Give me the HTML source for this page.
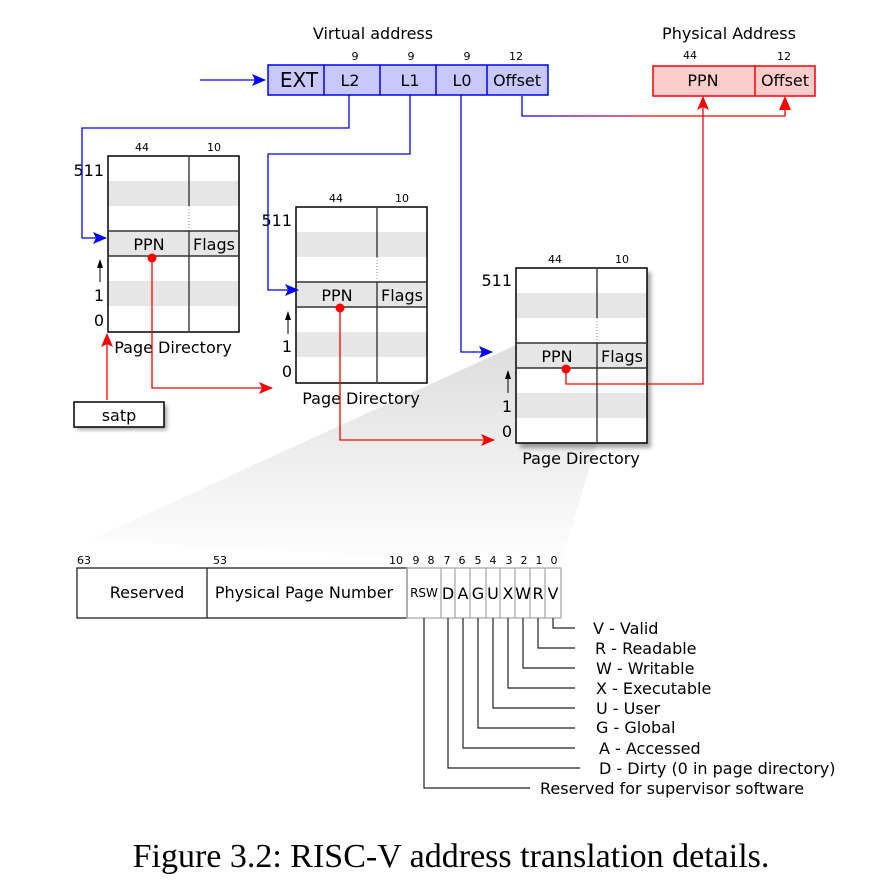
<!DOCTYPE html>
<html><head><meta charset="utf-8"><style>
body{margin:0;background:#fff}
svg{display:block;font-family:"DejaVu Sans","Liberation Sans",sans-serif}
</style></head><body>
<svg width="883" height="882" viewBox="0 0 883 882" xmlns="http://www.w3.org/2000/svg">
<defs>
<linearGradient id="fan" x1="0" y1="0" x2="0" y2="1">
<stop offset="0" stop-color="#ddd"/><stop offset="1" stop-color="#fff"/></linearGradient>
<linearGradient id="off" x1="0" y1="0" x2="1" y2="0">
<stop offset="0" stop-color="#00f"/><stop offset="0.5" stop-color="#f00"/><stop offset="1" stop-color="#f00"/></linearGradient>
<marker id="ab" markerWidth="14" markerHeight="12" refX="13" refY="6" orient="auto" markerUnits="userSpaceOnUse"><path d="M0,0 L14,6 L0,12 L3,6z" fill="#00f"/></marker>
<marker id="ar" markerWidth="14" markerHeight="12" refX="13" refY="6" orient="auto" markerUnits="userSpaceOnUse"><path d="M0,0 L14,6 L0,12 L3,6z" fill="#f00"/></marker>
<filter id="sh"><feGaussianBlur stdDeviation="2"/></filter>
</defs>

<polygon points="516,345 516,443 597,443 560,566 90,540" fill="url(#fan)"/>

<!-- virtual address -->
<text x="373" y="39" font-size="16" text-anchor="middle">Virtual address</text>
<g font-size="11" text-anchor="middle"><text x="355" y="60">9</text><text x="411" y="60">9</text><text x="467" y="60">9</text><text x="516" y="60">12</text></g>
<rect x="268" y="65" width="280" height="30" fill="#c8c8ff" stroke="#00f" stroke-width="1.5"/>
<g stroke="#00f" stroke-width="1.5"><line x1="324" y1="65" x2="324" y2="95"/><line x1="380" y1="65" x2="380" y2="95"/><line x1="436" y1="65" x2="436" y2="95"/><line x1="487" y1="65" x2="487" y2="95"/></g>
<g font-size="16" text-anchor="middle"><text x="299" y="87" font-size="20">EXT</text><text x="350" y="86">L2</text><text x="410" y="86">L1</text><text x="462" y="86">L0</text><text x="517" y="86">Offset</text></g>

<!-- physical address -->
<text x="729" y="39" font-size="16" text-anchor="middle">Physical Address</text>
<g font-size="11" text-anchor="middle"><text x="690" y="59">44</text><text x="784" y="60">12</text></g>
<rect x="653" y="66" width="162" height="30" fill="#ffcccc" stroke="#f00" stroke-width="1.5"/>
<line x1="755" y1="66" x2="755" y2="96" stroke="#f00" stroke-width="1.5"/>
<g font-size="16" text-anchor="middle"><text x="703" y="86">PPN</text><text x="785" y="86">Offset</text></g>

<!-- table 1 -->
<g>
<rect x="108" y="181" width="131" height="25" fill="#e6e6e6"/><rect x="108" y="231" width="131" height="25" fill="#e6e6e6"/><rect x="108" y="281" width="131" height="25" fill="#e6e6e6"/>
<rect x="108" y="156" width="131" height="176" fill="none" stroke="#000" stroke-width="1.5"/>
<line x1="189" y1="156" x2="189" y2="206" stroke="#444" stroke-width="1.5"/><line x1="189" y1="206" x2="189" y2="231" stroke="#888" stroke-dasharray="1,2"/><line x1="189" y1="231" x2="189" y2="332" stroke="#444" stroke-width="1.5"/>
<line x1="108" y1="231" x2="239" y2="231" stroke="#333" stroke-width="1.5"/><line x1="108" y1="256" x2="239" y2="256" stroke="#333" stroke-width="1.5"/>
<g font-size="11" text-anchor="middle"><text x="142" y="151">44</text><text x="214" y="151">10</text></g>
<g font-size="16"><text x="149" y="250" text-anchor="middle">PPN</text><text x="214" y="250" text-anchor="middle">Flags</text><text x="104" y="176" text-anchor="end">511</text><text x="104" y="301" text-anchor="end">1</text><text x="104" y="326" text-anchor="end">0</text></g>
<path d="M100,282 V263" stroke="#000"/><path d="M97,268 L100,259 L103,268z"/>
<text x="173" y="353" font-size="16" text-anchor="middle">Page Directory</text>
</g>

<!-- table 2 -->
<g>
<rect x="296" y="232" width="131" height="25" fill="#e6e6e6"/><rect x="296" y="282" width="131" height="25" fill="#e6e6e6"/><rect x="296" y="332" width="131" height="25" fill="#e6e6e6"/>
<rect x="296" y="207" width="131" height="176" fill="none" stroke="#000" stroke-width="1.5"/>
<line x1="377" y1="207" x2="377" y2="257" stroke="#444" stroke-width="1.5"/><line x1="377" y1="257" x2="377" y2="282" stroke="#888" stroke-dasharray="1,2"/><line x1="377" y1="282" x2="377" y2="383" stroke="#444" stroke-width="1.5"/>
<line x1="296" y1="282" x2="427" y2="282" stroke="#333" stroke-width="1.5"/><line x1="296" y1="307" x2="427" y2="307" stroke="#333" stroke-width="1.5"/>
<g font-size="11" text-anchor="middle"><text x="336" y="202">44</text><text x="402" y="202">10</text></g>
<g font-size="16"><text x="337" y="301" text-anchor="middle">PPN</text><text x="402" y="301" text-anchor="middle">Flags</text><text x="292" y="226" text-anchor="end">511</text><text x="292" y="352" text-anchor="end">1</text><text x="292" y="377" text-anchor="end">0</text></g>
<path d="M288,334 V315" stroke="#000"/><path d="M285,320 L288,311 L291,320z"/>
<text x="361" y="404" font-size="16" text-anchor="middle">Page Directory</text>
</g>

<!-- table 3 -->
<g>
<rect x="520" y="272" width="131" height="176" fill="#000" opacity="0.35" filter="url(#sh)"/>
<rect x="516" y="268" width="131" height="175" fill="#fff"/>
<rect x="516" y="293" width="131" height="25" fill="#e6e6e6"/><rect x="516" y="343" width="131" height="25" fill="#e6e6e6"/><rect x="516" y="393" width="131" height="25" fill="#e6e6e6"/>
<rect x="516" y="268" width="131" height="175" fill="none" stroke="#000" stroke-width="1.5"/>
<line x1="597" y1="268" x2="597" y2="318" stroke="#444" stroke-width="1.5"/><line x1="597" y1="318" x2="597" y2="343" stroke="#888" stroke-dasharray="1,2"/><line x1="597" y1="343" x2="597" y2="443" stroke="#444" stroke-width="1.5"/>
<line x1="516" y1="343" x2="647" y2="343" stroke="#333" stroke-width="1.5"/><line x1="516" y1="368" x2="647" y2="368" stroke="#333" stroke-width="1.5"/>
<g font-size="11" text-anchor="middle"><text x="555" y="263">44</text><text x="622" y="263">10</text></g>
<g font-size="16"><text x="557" y="362" text-anchor="middle">PPN</text><text x="622" y="362" text-anchor="middle">Flags</text><text x="512" y="286" text-anchor="end">511</text><text x="512" y="412" text-anchor="end">1</text><text x="512" y="437" text-anchor="end">0</text></g>
<path d="M508,393 V374" stroke="#000"/><path d="M505,379 L508,370 L511,379z"/>
<text x="581" y="464" font-size="16" text-anchor="middle">Page Directory</text>
</g>

<!-- satp -->
<rect x="77" y="405" width="90" height="25" fill="#000" opacity="0.35" filter="url(#sh)"/>
<rect x="74" y="402" width="90" height="25" fill="#fff" stroke="#000" stroke-width="1.5"/>
<text x="119" y="421" font-size="16" text-anchor="middle">satp</text>

<!-- blue connectors -->
<g fill="none" stroke="#00f" stroke-width="1.3">
<path d="M200,80 H265" marker-end="url(#ab)"/>
<path d="M349,95 V128 H82 V238 H106" marker-end="url(#ab)"/>
<path d="M410,95 V154 H268 V290 H298" marker-end="url(#ab)"/>
<path d="M461,95 V352 H492" marker-end="url(#ab)"/>
</g>
<path d="M522,96 V116 H785 V100" fill="none" stroke="url(#off)" stroke-width="1.3"/>
<path d="M779,110 L785,96 L791,110z" fill="#f00"/>

<!-- red connectors -->
<g fill="none" stroke="#f00" stroke-width="1.3">
<path d="M152,258 V388 H272" marker-end="url(#ar)"/>
<path d="M340,308 V440 H494" marker-end="url(#ar)"/>
<path d="M566,369 V384 H703 V97" marker-end="url(#ar)"/>
<path d="M107,400 V334" marker-end="url(#ar)"/>
</g>
<g fill="#f00"><circle cx="152" cy="258" r="4.5"/><circle cx="340" cy="308" r="4.5"/><circle cx="566" cy="369" r="4.5"/></g>

<!-- PTE -->
<g font-size="11" text-anchor="middle">
<text x="84" y="564">63</text><text x="220" y="564">53</text><text x="396" y="564">10</text>
<text x="416" y="564">9</text><text x="431" y="564">8</text><text x="447" y="564">7</text><text x="462" y="564">6</text><text x="478" y="564">5</text><text x="493" y="564">4</text><text x="509" y="564">3</text><text x="524" y="564">2</text><text x="539" y="564">1</text><text x="554" y="564">0</text>
</g>
<rect x="77" y="568" width="330" height="50" fill="#fff" stroke="#222" stroke-width="1.3"/>
<line x1="207" y1="568" x2="207" y2="618" stroke="#222" stroke-width="1.3"/>
<g fill="none" stroke="#aaa" stroke-width="1.3">
<rect x="407" y="568" width="154" height="50"/>
<line x1="441" y1="568" x2="441" y2="618"/><line x1="455" y1="568" x2="455" y2="618"/><line x1="470" y1="568" x2="470" y2="618"/><line x1="486" y1="568" x2="486" y2="618"/><line x1="500" y1="568" x2="500" y2="618"/><line x1="515" y1="568" x2="515" y2="618"/><line x1="530" y1="568" x2="530" y2="618"/><line x1="545" y1="568" x2="545" y2="618"/>
</g>
<g font-size="16" text-anchor="middle">
<text x="147" y="598">Reserved</text><text x="304" y="598">Physical Page Number</text>
<text x="424" y="597" font-size="12">RSW</text><text x="448" y="599">D</text><text x="463" y="599">A</text><text x="478" y="599">G</text><text x="493" y="599">U</text><text x="508" y="599">X</text><text x="523" y="599">W</text><text x="538" y="599">R</text><text x="553" y="599">V</text>
</g>
<g fill="none" stroke="#222" stroke-width="1.2">
<path d="M553,618 V628 H575"/><path d="M538,618 V648 H575"/><path d="M523,618 V668 H575"/><path d="M508,618 V688 H575"/><path d="M493,618 V708 H575"/><path d="M478,618 V728 H575"/><path d="M463,618 V748 H575"/><path d="M448,618 V768 H580"/><path d="M424,618 V788 H530"/>
</g>
<g font-size="16">
<text x="593" y="634">V - Valid</text><text x="595" y="654">R  - Readable</text><text x="596" y="674">W - Writable</text><text x="596" y="694">X - Executable</text><text x="596" y="714">U - User</text><text x="596" y="733">G - Global</text><text x="599" y="754">A - Accessed</text><text x="599" y="774">D - Dirty (0 in page directory)</text><text x="540" y="794">Reserved for supervisor software</text>
</g>

<text x="451" y="867" font-family="Liberation Serif, serif" font-size="34" text-anchor="middle">Figure 3.2: RISC-V address translation details.</text>
</svg>
</body></html>
